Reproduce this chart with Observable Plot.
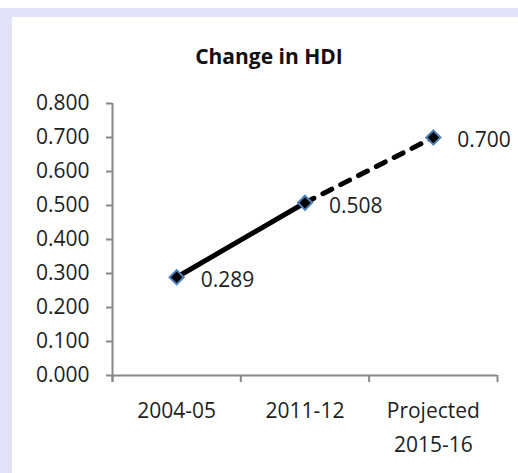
<!DOCTYPE html>
<html>
<head>
<meta charset="utf-8">
<script src="https://cdn.jsdelivr.net/npm/d3@7"></script>
<script src="https://cdn.jsdelivr.net/npm/@observablehq/plot@0.6"></script>
<style>
  html, body { margin: 0; padding: 0; background: #ffffff; }
  #wrap { position: relative; width: 518px; height: 473px; overflow: hidden; background: #ffffff; }
  #bandTop { position: absolute; left: 0; top: 8px; width: 518px; height: 9px; background: #e2e2f8; }
  #bandLeft { position: absolute; left: 0; top: 8px; width: 12px; height: 465px; background: #e2e2f8; }
  #title { position: absolute; left: 12px; top: 42px; width: 506px; padding-left: 8px; box-sizing: border-box;
           text-align: center; font: bold 21px "Open Sans", sans-serif; line-height: 28px; color: #111; }
  #chart { position: absolute; left: 12px; top: 77px; }
</style>
</head>
<body>
<div id="wrap">
  <div id="bandTop"></div>
  <div id="bandLeft"></div>
  <div id="title">Change in HDI</div>
  <div id="chart"></div>
</div>
<script>
const categories = ["2004-05", "2011-12", "Projected\n2015-16"];
const hdi = [0.289, 0.508, 0.700];
const yTicks = [0, 0.1, 0.2, 0.3, 0.4, 0.5, 0.6, 0.7, 0.8];
const title = "Change in HDI";

const data = categories.map((cat, i) => ({cat, i, v: hdi[i]}));
const actual = data.slice(0, 2);
const projected = data.slice(1, 3);
const xc = d => d.i + 0.5;

const axisColor = "#888888";
const textColor = "#1e1e1e";
const font = "Open Sans, sans-serif";

const chart = Plot.plot({
  width: 506,
  height: 396,
  marginLeft: 100,
  marginRight: 21,
  marginTop: 26,
  marginBottom: 98,
  style: {background: "transparent", fontFamily: font, color: textColor, overflow: "visible"},
  x: {domain: [0, categories.length], axis: null},
  y: {domain: [0, yTicks[yTicks.length - 1]], axis: null},
  marks: [
    Plot.axisY({ticks: yTicks, tickFormat: d3.format(".3f"), tickSize: 6, tickPadding: 17, label: null,
                fontSize: 21, stroke: axisColor, strokeWidth: 2, fill: textColor, strokeOpacity: 1}),
    Plot.axisX({ticks: d3.range(categories.length + 1), tickFormat: () => "", tickSize: 7, label: null,
                stroke: axisColor, strokeWidth: 2, strokeOpacity: 1}),
    Plot.ruleX([0], {stroke: axisColor, strokeWidth: 2, insetBottom: -7}),
    Plot.ruleY([0], {stroke: axisColor, strokeWidth: 2}),
    Plot.text(data, {x: xc, text: "cat", frameAnchor: "bottom", lineAnchor: "top", dy: 19,
                     lineHeight: 1.6, fontSize: 21, fill: textColor}),
    Plot.line(actual, {x: xc, y: "v", stroke: "#000", strokeWidth: 5}),
    Plot.line(projected, {x: xc, y: "v", stroke: "#000", strokeWidth: 5,
                          strokeDasharray: "10,10", strokeLinecap: "round"}),
    Plot.dot(data, {x: xc, y: "v", symbol: "diamond2", r: 6.4, fill: "#000",
                    stroke: "#4f81bd", strokeWidth: 2}),
    Plot.text(data, {x: xc, y: "v", text: d => d3.format(".3f")(d.v), dx: 24, dy: 3,
                     textAnchor: "start", fontSize: 21, fill: textColor})
  ]
});
document.getElementById("chart").appendChild(chart);
</script>
</body>
</html>
